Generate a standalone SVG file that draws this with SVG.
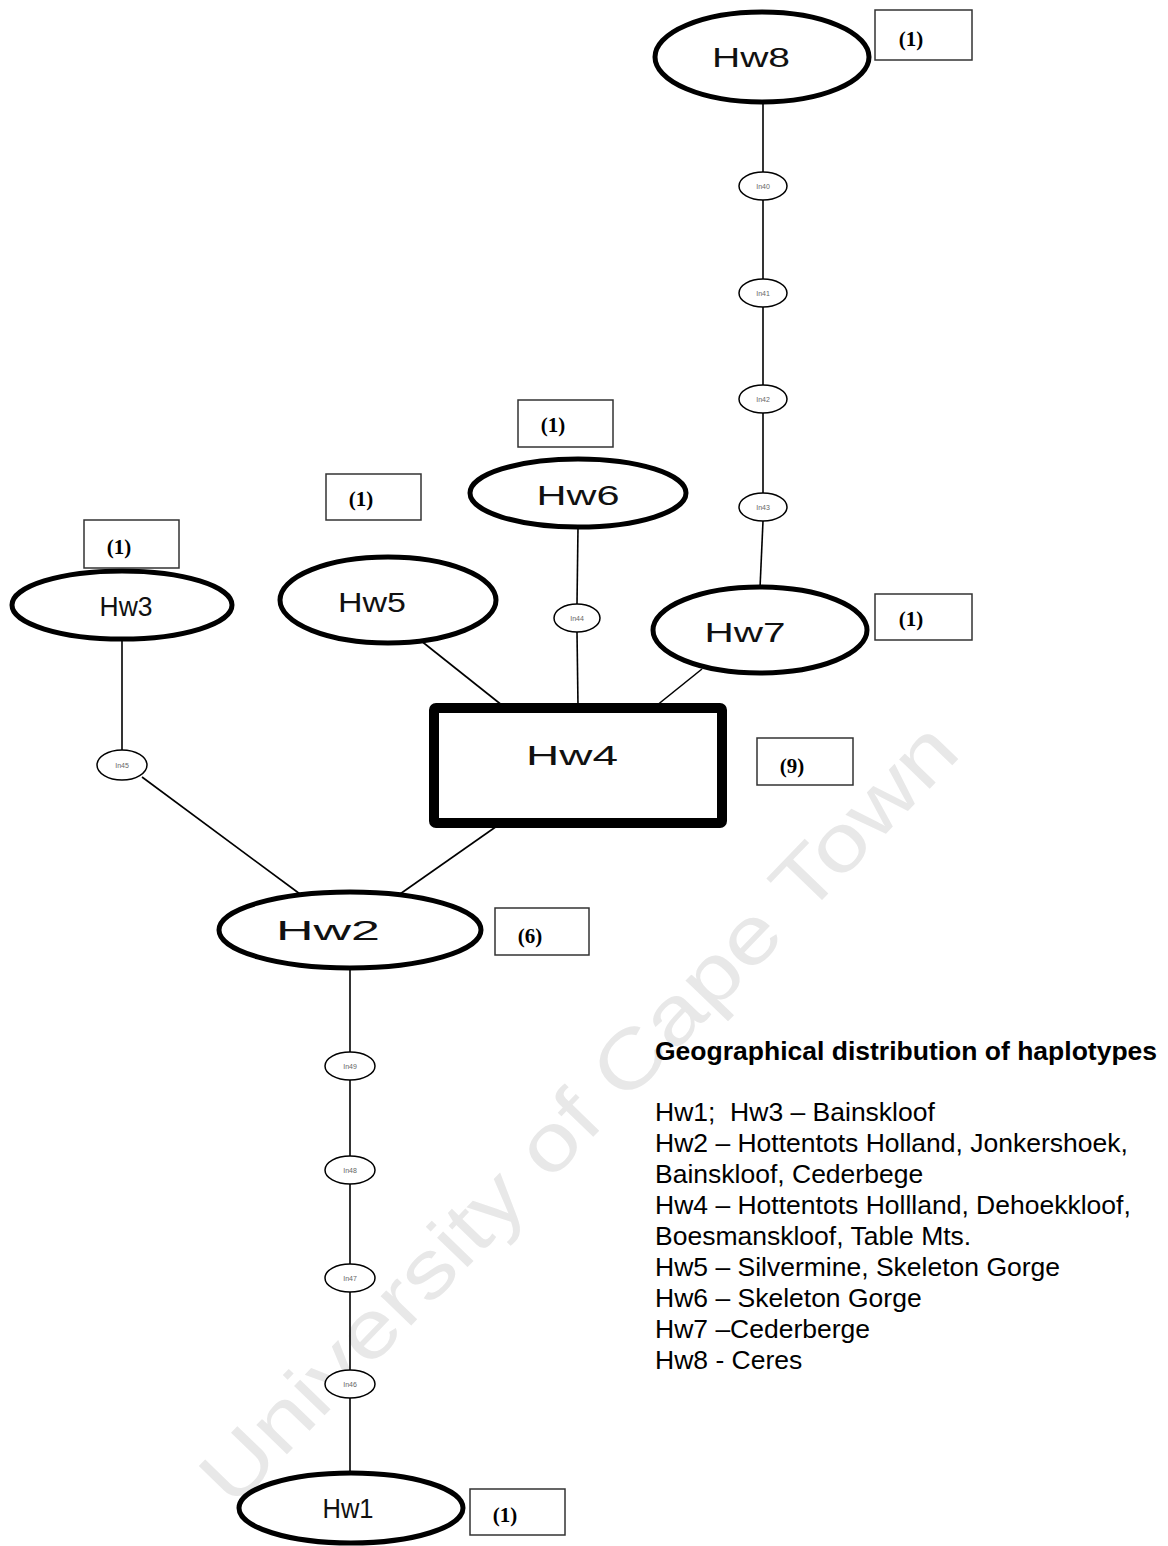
<svg xmlns="http://www.w3.org/2000/svg" width="1168" height="1546" viewBox="0 0 1168 1546">
<style>
.big{fill:#fff;stroke:#000;stroke-width:5}
.small{fill:#fff;stroke:#000;stroke-width:1.5}
.cnt{fill:#fff;stroke:#333;stroke-width:1.5}
.lbl{font-family:"Liberation Sans",Arial,sans-serif;font-size:27px;fill:#111;text-anchor:middle}
.sl{font-family:"Liberation Sans",Arial,sans-serif;font-size:7px;fill:#666;text-anchor:middle}
.ct{font-family:"Liberation Serif","Times New Roman",serif;font-weight:bold;font-size:21px;fill:#000;text-anchor:middle}
.leg{font-family:"Liberation Sans",Arial,sans-serif;font-size:26.5px;fill:#000}
.edge{stroke:#000;stroke-width:1.6;fill:none}
</style>
<rect width="1168" height="1546" fill="#fff"/>
<text x="598" y="1132" transform="rotate(-46 598 1132)" font-family="Liberation Sans,Arial,sans-serif" font-size="80" fill="#e8e8e8" text-anchor="middle" textLength="1050" lengthAdjust="spacingAndGlyphs">University of Cape Town</text>
<g id="connectors">
<line class="edge" x1="763" y1="102" x2="763" y2="172"/>
<line class="edge" x1="763" y1="200" x2="763" y2="279"/>
<line class="edge" x1="763" y1="307" x2="763" y2="385"/>
<line class="edge" x1="763" y1="413" x2="763" y2="493"/>
<line class="edge" x1="763" y1="521" x2="760" y2="588"/>
<line class="edge" x1="578" y1="527" x2="577" y2="604"/>
<line class="edge" x1="577" y1="632" x2="578" y2="706"/>
<line class="edge" x1="420" y1="640" x2="503" y2="706"/>
<line class="edge" x1="702" y1="669" x2="656" y2="706"/>
<line class="edge" x1="122" y1="639" x2="122" y2="750"/>
<line class="edge" x1="142" y1="777" x2="300" y2="894"/>
<line class="edge" x1="497" y1="826" x2="400" y2="894"/>
<line class="edge" x1="350" y1="968" x2="350" y2="1052"/>
<line class="edge" x1="350" y1="1080" x2="350" y2="1156"/>
<line class="edge" x1="350" y1="1184" x2="350" y2="1264"/>
<line class="edge" x1="350" y1="1292" x2="350" y2="1370"/>
<line class="edge" x1="350" y1="1398" x2="350" y2="1473"/>
</g>
<g id="Hw8"><ellipse class="big" cx="762" cy="57" rx="107" ry="45"/><text class="lbl" x="751" y="67" textLength="78" lengthAdjust="spacingAndGlyphs">Hw8</text></g>
<g id="Hw8-count"><rect class="cnt" x="875" y="10" width="97" height="50"/><text class="ct" x="911" y="46">(1)</text></g>
<g id="In40"><ellipse class="small" cx="763" cy="186" rx="24" ry="14"/><text class="sl" x="763" y="189">In40</text></g>
<g id="In41"><ellipse class="small" cx="763" cy="293" rx="24" ry="14"/><text class="sl" x="763" y="296">In41</text></g>
<g id="In42"><ellipse class="small" cx="763" cy="399" rx="24" ry="14"/><text class="sl" x="763" y="402">In42</text></g>
<g id="In43"><ellipse class="small" cx="763" cy="507" rx="24" ry="14"/><text class="sl" x="763" y="510">In43</text></g>
<g id="Hw7"><ellipse class="big" cx="760" cy="630" rx="107" ry="43"/><text class="lbl" x="745" y="642" textLength="81" lengthAdjust="spacingAndGlyphs">Hw7</text></g>
<g id="Hw7-count"><rect class="cnt" x="875" y="594" width="97" height="46"/><text class="ct" x="911" y="626">(1)</text></g>
<g id="Hw6"><ellipse class="big" cx="578" cy="493" rx="108" ry="34"/><text class="lbl" x="578" y="505" textLength="83" lengthAdjust="spacingAndGlyphs">Hw6</text></g>
<g id="Hw6-count"><rect class="cnt" x="518" y="400" width="95" height="47"/><text class="ct" x="553" y="432">(1)</text></g>
<g id="In44"><ellipse class="small" cx="577" cy="618" rx="23" ry="14"/><text class="sl" x="577" y="621">In44</text></g>
<g id="Hw5"><ellipse class="big" cx="388" cy="600" rx="108" ry="43"/><text class="lbl" x="372" y="612" textLength="68" lengthAdjust="spacingAndGlyphs">Hw5</text></g>
<g id="Hw5-count"><rect class="cnt" x="326" y="474" width="95" height="46"/><text class="ct" x="361" y="506">(1)</text></g>
<g id="Hw4"><rect x="434" y="708" width="288" height="115" fill="#fff" stroke="#000" stroke-width="10" rx="2"/><text class="lbl" x="572" y="765" textLength="92" lengthAdjust="spacingAndGlyphs">Hw4</text></g>
<g id="Hw4-count"><rect class="cnt" x="757" y="738" width="96" height="47"/><text class="ct" x="792" y="773">(9)</text></g>
<g id="Hw3"><ellipse class="big" cx="122" cy="605" rx="110" ry="34"/><text class="lbl" x="126" y="616" font-size="24" textLength="53" lengthAdjust="spacingAndGlyphs">Hw3</text></g>
<g id="Hw3-count"><rect class="cnt" x="84" y="520" width="95" height="48"/><text class="ct" x="119" y="554">(1)</text></g>
<g id="In45"><ellipse class="small" cx="122" cy="765" rx="25" ry="15"/><text class="sl" x="122" y="768">In45</text></g>
<g id="Hw2"><ellipse class="big" cx="350" cy="930" rx="131" ry="38"/><text class="lbl" x="328" y="940" textLength="104" lengthAdjust="spacingAndGlyphs">Hw2</text></g>
<g id="Hw2-count"><rect class="cnt" x="495" y="908" width="94" height="47"/><text class="ct" x="530" y="943">(6)</text></g>
<g id="In49"><ellipse class="small" cx="350" cy="1066" rx="25" ry="14"/><text class="sl" x="350" y="1069">In49</text></g>
<g id="In48"><ellipse class="small" cx="350" cy="1170" rx="25" ry="14"/><text class="sl" x="350" y="1173">In48</text></g>
<g id="In47"><ellipse class="small" cx="350" cy="1278" rx="25" ry="14"/><text class="sl" x="350" y="1281">In47</text></g>
<g id="In46"><ellipse class="small" cx="350" cy="1384" rx="25" ry="14"/><text class="sl" x="350" y="1387">In46</text></g>
<g id="Hw1"><ellipse class="big" cx="351" cy="1508" rx="112" ry="35"/><text class="lbl" x="348" y="1518" font-size="24" textLength="51" lengthAdjust="spacingAndGlyphs">Hw1</text></g>
<g id="Hw1-count"><rect class="cnt" x="470" y="1489" width="95" height="46"/><text class="ct" x="505" y="1522">(1)</text></g>
<g id="legend">
<text class="leg" x="655" y="1060" font-weight="bold" font-size="25.4">Geographical distribution of haplotypes</text>
<text class="leg" x="655" y="1121" xml:space="preserve">Hw1;  Hw3 – Bainskloof</text>
<text class="leg" x="655" y="1152">Hw2 – Hottentots Holland, Jonkershoek,</text>
<text class="leg" x="655" y="1183">Bainskloof, Cederbege</text>
<text class="leg" x="655" y="1214">Hw4 – Hottentots Hollland, Dehoekkloof,</text>
<text class="leg" x="655" y="1245">Boesmanskloof, Table Mts.</text>
<text class="leg" x="655" y="1276">Hw5 – Silvermine, Skeleton Gorge</text>
<text class="leg" x="655" y="1307">Hw6 – Skeleton Gorge</text>
<text class="leg" x="655" y="1338">Hw7 –Cederberge</text>
<text class="leg" x="655" y="1369">Hw8 - Ceres</text>
</g>
</svg>
